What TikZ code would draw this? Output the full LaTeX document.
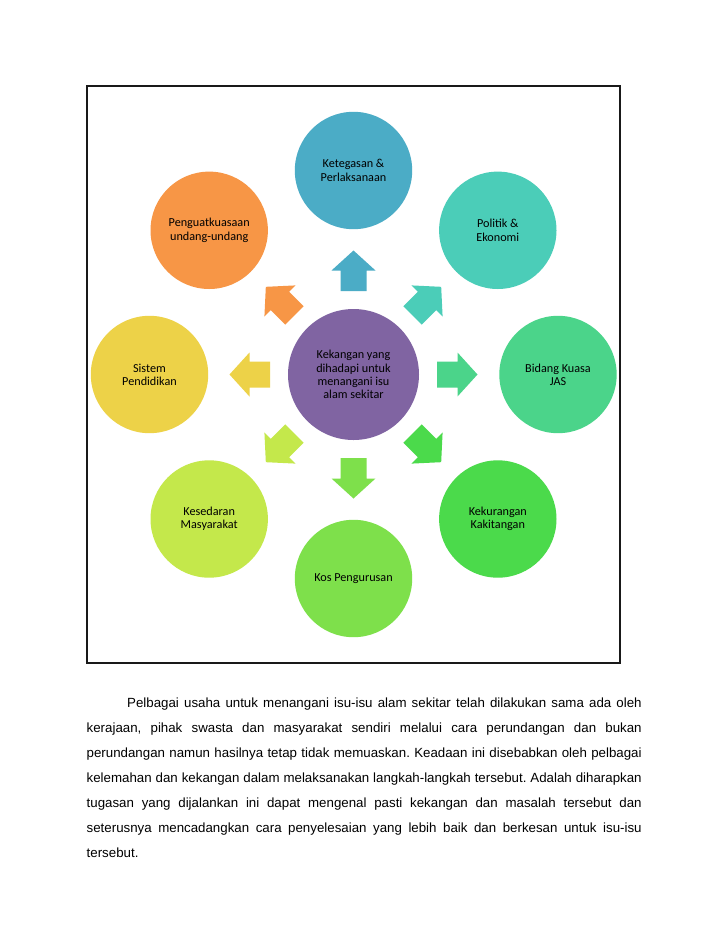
\documentclass[tikz,border=0pt]{standalone}
\usepackage{fontspec}
\newfontfamily\calibf{Carlito}
\newfontfamily\arialf{Liberation Sans}
\definecolor{cTop}{RGB}{75,172,198}
\definecolor{cPol}{RGB}{75,205,184}
\definecolor{cBid}{RGB}{75,212,138}
\definecolor{cKek}{RGB}{75,218,75}
\definecolor{cKos}{RGB}{126,224,75}
\definecolor{cKes}{RGB}{196,232,75}
\definecolor{cSis}{RGB}{237,210,72}
\definecolor{cPen}{RGB}{247,150,70}
\definecolor{cMid}{RGB}{128,100,162}
\newcommand{\bkarrow}[2]{%
  \begin{scope}[shift={(ctr.center)}, rotate=#1]
    \fill[#2] (83.5,-13) -- (104,-13) -- (104,-22) -- (124,0) -- (104,22) -- (104,13) -- (83.5,13) -- cycle;
  \end{scope}}
\begin{document}
\begin{tikzpicture}[x=1pt,y=-1pt,
  bubble/.style={circle, inner sep=0pt, minimum size=117.4pt, align=center, text=black,
    font=\calibf\fontsize{12.2}{13.3}\selectfont},
  para/.style={anchor=north west, inner sep=0pt, text width=555pt, align=justify,
    font=\arialf\fontsize{13.3}{25}\selectfont}
]
\useasboundingbox (0,0) rectangle (728,943);
\fill[white] (0,0) rectangle (728,943);
\draw[line width=2pt, black!90] (87,86) rectangle (620,663);

\node[bubble, minimum size=131pt, fill=cMid] (ctr) at (353.5,374.5) {Kekangan yang\\dihadapi untuk\\menangani isu\\alam sekitar};
\node[bubble, fill=cTop] (ket) at (353.5,170.5) {Ketegasan \&\\Perlaksanaan};
\node[bubble, fill=cPol] (pol) at (497.8,230.3) {Politik \&\\Ekonomi};
\node[bubble, fill=cBid] (bid) at (558,374.5) {Bidang Kuasa\\JAS};
\node[bubble, fill=cKek] (kek) at (497.8,519) {Kekurangan\\Kakitangan};
\node[bubble, fill=cKos] (kos) at (353.5,578.5) {Kos Pengurusan};
\node[bubble, fill=cKes] (kes) at (209.2,519) {Kesedaran\\Masyarakat};
\node[bubble, fill=cSis] (sis) at (149.5,374.5) {Sistem\\Pendidikan};
\node[bubble, fill=cPen] (pen) at (209.2,230.3) {Penguatkuasaan\\undang-undang};

\bkarrow{90}{cTop}
\bkarrow{45}{cPol}
\bkarrow{0}{cBid}
\bkarrow{-45}{cKek}
\bkarrow{-90}{cKos}
\bkarrow{-135}{cKes}
\bkarrow{180}{cSis}
\bkarrow{135}{cPen}

\node[para] (txt) at (86.5,697.4) {\frenchspacing\hyphenpenalty=10000\exhyphenpenalty=10000\tolerance=9999\emergencystretch=20pt%
\hspace*{40.5pt}Pelbagai usaha untuk menangani isu-isu alam sekitar telah dilakukan sama ada oleh\linebreak
kerajaan, pihak swasta dan masyarakat sendiri melalui cara perundangan dan bukan\linebreak
perundangan namun hasilnya tetap tidak memuaskan. Keadaan ini disebabkan oleh pelbagai\linebreak
kelemahan dan kekangan dalam melaksanakan langkah-langkah tersebut. Adalah diharapkan\linebreak
tugasan yang dijalankan ini dapat mengenal pasti kekangan dan masalah tersebut dan\linebreak
seterusnya mencadangkan cara penyelesaian yang lebih baik dan berkesan untuk isu-isu\linebreak
tersebut.};
\end{tikzpicture}
\end{document}
